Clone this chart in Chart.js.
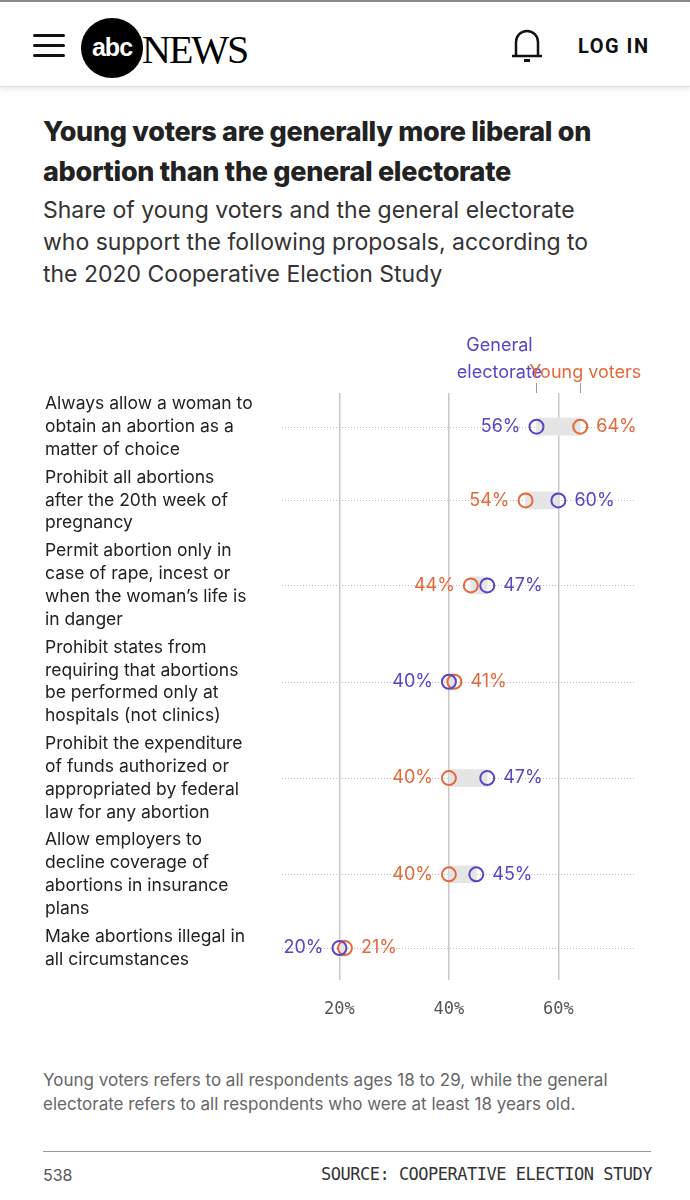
<!DOCTYPE html>
<html><head><meta charset="utf-8">
<script src="https://cdn.jsdelivr.net/npm/chart.js@4"></script>
<style>
body{margin:0;width:690px;height:1200px;background:#fff;font-family:"Inter","Noto Sans",sans-serif;color:#222;position:relative;overflow:hidden}
.top{position:absolute;left:0;top:0;width:690px;height:2px;background:#888}
.nav{position:absolute;left:0;top:2px;width:690px;height:84px;border-bottom:1px solid #ddd;box-shadow:0 3px 4px #eee}
.burger{position:absolute;left:33px;top:32px;width:32px}
.burger div{height:3px;background:#111;margin-bottom:7px;border-radius:2px}
.logo{position:absolute;left:81px;top:16px;width:62px;height:60px;border-radius:50%;background:#000;color:#fff;font:bold 25px Arial,sans-serif;text-align:center;line-height:58px;letter-spacing:-1px}
.news{position:absolute;left:142px;top:24px;font:40px "Liberation Serif",serif;letter-spacing:-2px;color:#000}
.login{position:absolute;left:578px;top:32px;font:bold 20px "Roboto",sans-serif;letter-spacing:1.5px;color:#111}
.bell{position:absolute;left:510px;top:26px}
h1{position:absolute;left:43px;top:112px;margin:0;font-size:27px;line-height:40px;font-weight:800;color:#222;width:570px;letter-spacing:-0.3px}
.sub{position:absolute;left:43px;top:194px;font-size:23px;line-height:32px;color:#333;width:580px}
.note{position:absolute;left:43px;top:1068px;font-size:17px;line-height:24px;color:#666;width:565px}
.rule{position:absolute;left:43px;top:1151px;width:608px;height:1px;background:#999}
.n538{position:absolute;left:43px;top:1165px;font-size:16px;color:#555}
.src{position:absolute;right:38px;top:1164px;font:17px "DejaVu Sans Mono",monospace;color:#333;letter-spacing:-0.5px}
#wrap{position:absolute;left:0;top:330px;width:690px;height:710px}
</style></head><body>
<div class="top"></div>
<div class="nav">
<div class="burger"><div></div><div></div><div></div></div>
<div class="logo">abc</div><div class="news">NEWS</div>
<svg class="bell" width="34" height="36" viewBox="0 0 34 36"><path d="M6 27 L6 14 A11 11 0 0 1 28 14 L28 27 M2 28 L32 28" fill="none" stroke="#111" stroke-width="2.5"/><rect x="14" y="31" width="6" height="3" fill="#111"/></svg>
<div class="login">LOG IN</div>
</div>
<h1>Young voters are generally more liberal on abortion than the general electorate</h1>
<div class="sub">Share of young voters and the general electorate who support the following proposals, according to the 2020 Cooperative Election Study</div>
<div id="wrap"><canvas id="c"></canvas></div>
<div class="note">Young voters refers to all respondents ages 18 to 29, while the general electorate refers to all respondents who were at least 18 years old.</div>
<div class="rule"></div>
<div class="n538">538</div>
<div class="src">SOURCE: COOPERATIVE ELECTION STUDY</div>
<script>
const proposals = [
  ["Always allow a woman to", "obtain an abortion as a", "matter of choice"],
  ["Prohibit all abortions", "after the 20th week of", "pregnancy"],
  ["Permit abortion only in", "case of rape, incest or", "when the woman\u2019s life is", "in danger"],
  ["Prohibit states from", "requiring that abortions", "be performed only at", "hospitals (not clinics)"],
  ["Prohibit the expenditure", "of funds authorized or", "appropriated by federal", "law for any abortion"],
  ["Allow employers to", "decline coverage of", "abortions in insurance", "plans"],
  ["Make abortions illegal in", "all circumstances"]
];
const general = [56, 60, 47, 40, 47, 45, 20];
const young = [64, 54, 44, 41, 40, 40, 21];
const xTicks = [20, 40, 60];

const PURPLE = "#5a43c8", ORANGE = "#e5683b";
const LINE = 22.8;
// row centres derived from label line counts
const rowY = [];
proposals.forEach((p, i) => {
  if (i === 0) rowY.push(34);
  else rowY.push(rowY[i - 1] + (proposals[i - 1].length + p.length) / 2 * LINE + 6);
});

const pct = v => v + "%";

const overlay = {
  id: "overlay",
  beforeDatasetsDraw(chart) {
    const ctx = chart.ctx, x = chart.scales.x, y = chart.scales.y;
    ctx.save();
    ctx.strokeStyle = "#bbb"; ctx.lineWidth = 1; ctx.setLineDash([1, 2]);
    rowY.forEach(r => {
      const py = Math.round(y.getPixelForValue(r)) + 0.5;
      ctx.beginPath(); ctx.moveTo(x.left, py); ctx.lineTo(x.right, py); ctx.stroke();
    });
    ctx.restore();
  },
  afterDatasetsDraw(chart) {
    const ctx = chart.ctx, x = chart.scales.x, y = chart.scales.y;
    ctx.save();
    ctx.textBaseline = "middle";
    proposals.forEach((lines, i) => {
      const py = y.getPixelForValue(rowY[i]);
      ctx.font = "17.5px Inter, 'Noto Sans', sans-serif";
      ctx.fillStyle = "#222"; ctx.textAlign = "left";
      lines.forEach((t, k) => ctx.fillText(t, 45, py + (k - (lines.length - 1) / 2) * LINE));
      const g = general[i], yv = young[i];
      const gLeft = g <= yv;
      const lo = gLeft ? g : yv, hi = gLeft ? yv : g;
      ctx.font = "18px Inter, 'Noto Sans', sans-serif";
      ctx.textAlign = "right"; ctx.fillStyle = gLeft ? PURPLE : ORANGE;
      ctx.fillText(pct(lo), x.getPixelForValue(lo) - 16, py);
      ctx.textAlign = "left"; ctx.fillStyle = gLeft ? ORANGE : PURPLE;
      ctx.fillText(pct(hi), x.getPixelForValue(hi) + 16, py);
    });
    // legend annotation
    const top = y.top;
    const gx = x.getPixelForValue(general[0]), yx = x.getPixelForValue(young[0]);
    ctx.font = "18px Inter, 'Noto Sans', sans-serif";
    ctx.textBaseline = "alphabetic";
    ctx.fillStyle = PURPLE; ctx.textAlign = "center";
    ctx.fillText("General", gx - 37, top - 42);
    ctx.fillText("electorate", gx - 37, top - 15);
    ctx.fillStyle = ORANGE;
    ctx.fillText("Young voters", yx + 5, top - 15);
    ctx.strokeStyle = "#999"; ctx.lineWidth = 1;
    [gx, yx].forEach(px => { ctx.beginPath(); ctx.moveTo(Math.round(px) + 0.5, top - 10); ctx.lineTo(Math.round(px) + 0.5, top); ctx.stroke(); });
    ctx.restore();
  }
};

new Chart(document.getElementById("c"), {
  data: {
    datasets: [
      {
        type: "bar",
        data: rowY.map((r, i) => ({ y: r, x: [Math.min(general[i], young[i]), Math.max(general[i], young[i])] })),
        backgroundColor: "#e5e5e5",
        barThickness: 17,
        indexAxis: "y",
        order: 3
      },
      {
        type: "scatter",
        label: "General electorate",
        data: rowY.map((r, i) => ({ x: general[i], y: r })),
        pointRadius: 7, pointBorderWidth: 2,
        pointBorderColor: PURPLE, pointBackgroundColor: "rgba(255,255,255,0)",
        order: 1
      },
      {
        type: "scatter",
        label: "Young voters",
        data: rowY.map((r, i) => ({ x: young[i], y: r })),
        pointRadius: 7, pointBorderWidth: 2,
        pointBorderColor: ORANGE, pointBackgroundColor: "rgba(255,255,255,0)",
        order: 2
      }
    ]
  },
  options: {
    indexAxis: "y",
    responsive: true, maintainAspectRatio: false, animation: false,
    layout: { padding: { left: 282, right: 55, top: 63, bottom: 0 } },
    plugins: { legend: { display: false }, tooltip: { enabled: false } },
    scales: {
      x: {
        type: "linear", min: 9.5, max: 74, position: "bottom",
        afterBuildTicks: s => { s.ticks = xTicks.map(v => ({ value: v })); },
        grid: { color: "#c8c8c8", lineWidth: 1.5, drawTicks: false },
        border: { display: false },
        ticks: { callback: v => v + "%", color: "#555", padding: 20, font: { family: "'DejaVu Sans Mono', monospace", size: 17 } }
      },
      y: { type: "linear", min: 0, max: 592, reverse: true, display: false, offset: false }
    }
  },
  plugins: [overlay]
});
</script>
</body></html>
